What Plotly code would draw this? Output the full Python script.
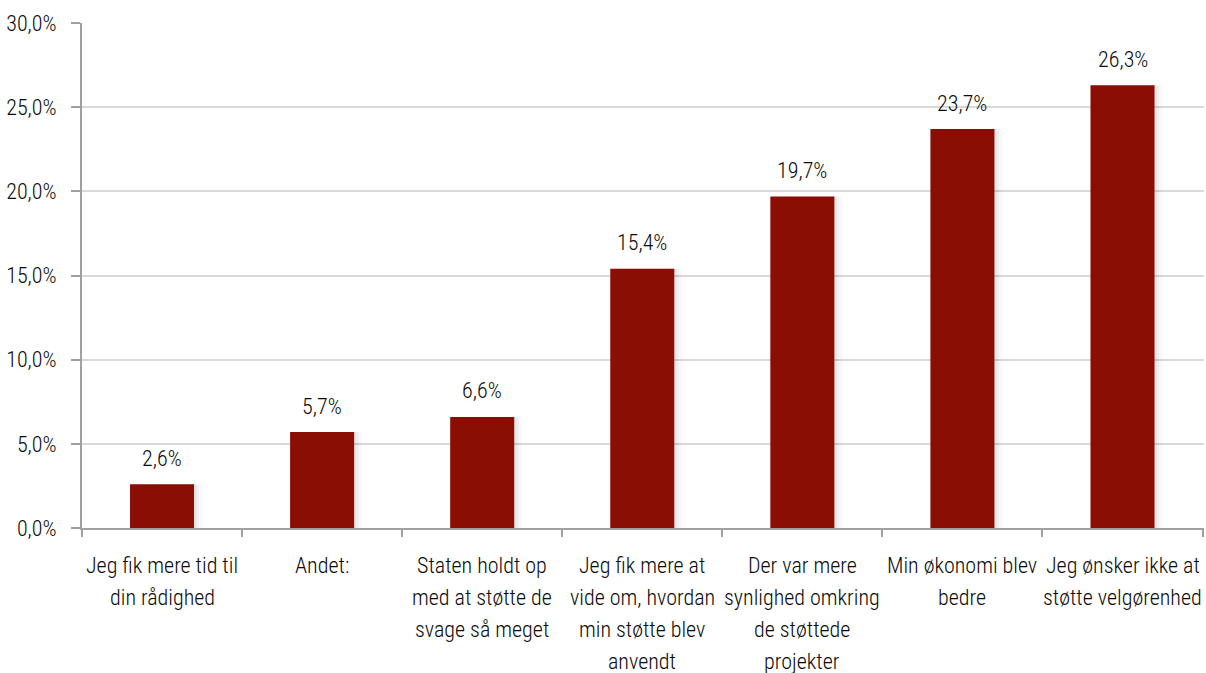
import plotly.graph_objects as go

categories = [
    "Jeg fik mere tid til<br>din rådighed",
    "Andet:",
    "Staten holdt op<br>med at støtte de<br>svage så meget",
    "Jeg fik mere at<br>vide om, hvordan<br>min støtte blev<br>anvendt",
    "Der var mere<br>synlighed omkring<br>de støttede<br>projekter",
    "Min økonomi blev<br>bedre",
    "Jeg ønsker ikke at<br>støtte velgørenhed",
]
values = [2.6, 5.7, 6.6, 15.4, 19.7, 23.7, 26.3]
y_ticks = [0, 5, 10, 15, 20, 25, 30]


def pct(v):
    return f"{v:.1f}".replace(".", ",") + "%"


FONT = "Roboto Condensed"
TEXT = "#0a0a0a"
AXIS = "#a0a0a0"
BAR = "#8B0E04"
SIZE = 22
WEIGHT = 300

fig = go.Figure()

# soft drop shadow to the right of each bar
for shift, alpha in [(0.05, 0.025), (0.03, 0.035), (0.015, 0.045)]:
    fig.add_trace(
        go.Bar(
            x=categories,
            y=values,
            width=0.4,
            offset=-0.2 + shift,
            marker=dict(color=f"rgba(0,0,0,{alpha})", line=dict(width=0)),
            hoverinfo="skip",
        )
    )

fig.add_trace(
    go.Bar(
        x=categories,
        y=values,
        width=0.4,
        offset=-0.2,
        marker=dict(color=BAR, line=dict(width=0)),
    )
)

# value labels above the bars
for cat, v in zip(categories, values):
    fig.add_annotation(
        x=cat, y=v, text=pct(v), showarrow=False,
        yanchor="middle", yshift=26,
        font=dict(family=FONT, size=SIZE, color=TEXT, weight=WEIGHT),
    )

# category labels under the axis, one line at a time
for cat in categories:
    for i, line in enumerate(cat.split("<br>")):
        fig.add_annotation(
            x=cat, y=0, text=line, showarrow=False,
            yanchor="middle", yshift=-(37 + 32 * i),
            font=dict(family=FONT, size=SIZE, color=TEXT, weight=WEIGHT),
        )

fig.update_layout(
    width=1206,
    height=673,
    margin=dict(l=82, r=2, t=23, b=145),
    paper_bgcolor="white",
    plot_bgcolor="white",
    showlegend=False,
    barmode="overlay",
    font=dict(family=FONT, size=SIZE, color=TEXT, weight=WEIGHT),
)

fig.update_xaxes(
    showline=True,
    linecolor=AXIS,
    linewidth=2,
    ticks="outside",
    ticklen=7,
    tickcolor=AXIS,
    tickwidth=2,
    tickson="boundaries",
    showticklabels=False,
    showgrid=False,
)

fig.update_yaxes(
    range=[0, 30],
    tickmode="array",
    tickvals=y_ticks,
    ticktext=[pct(t) for t in y_ticks],
    showline=True,
    linecolor=AXIS,
    linewidth=2,
    ticks="outside",
    ticklen=9,
    tickcolor=AXIS,
    tickwidth=2,
    ticklabelstandoff=10,
    gridcolor="#d9d9d9",
    gridwidth=1.5,
    zeroline=False,
    tickfont=dict(family=FONT, size=SIZE, color=TEXT, weight=WEIGHT),
)

fig.write_html("out.html")
